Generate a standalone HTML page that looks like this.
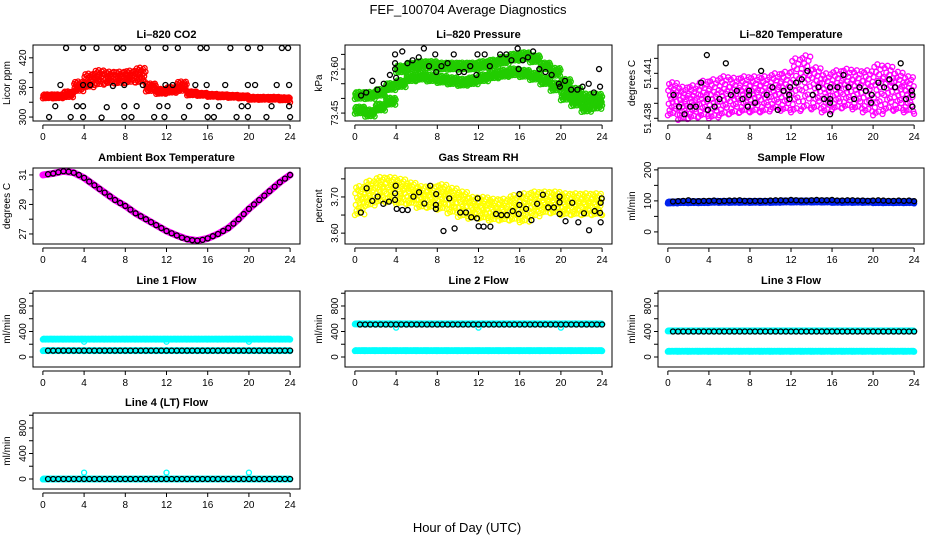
<!DOCTYPE html>
<html><head><meta charset="utf-8"><style>
html,body{margin:0;padding:0;background:#fff}
svg{display:block;font-family:"Liberation Sans",Arial,sans-serif}
</style></head><body>
<svg id="chart" width="936" height="540" viewBox="0 0 936 540">
<text x="468" y="14" text-anchor="middle" font-size="13">FEF_100704  Average Diagnostics</text>
<text x="467" y="532" text-anchor="middle" font-size="13">Hour of Day (UTC)</text>
</svg>
<script>
// ---------- data ----------
const xTicks=[0,4,8,12,16,20,24];
const hours=[0,1,2,3,4,5,6,7,8,9,10,11,12,13,14,15,16,17,18,19,20,21,22,23,24];
const halfHours=[0.5,1,1.5,2,2.5,3,3.5,4,4.5,5,5.5,6,6.5,7,7.5,8,8.5,9,9.5,10,10.5,11,11.5,12,12.5,13,13.5,14,14.5,15,15.5,16,16.5,17,17.5,18,18.5,19,19.5,20,20.5,21,21.5,22,22.5,23,23.5,24];

// CO2
const co2Center=[342,342,346,362,374,380,380,380,382,385,360,352,355,362,348,346,344,343,342,341,338,338,338,337,333];
const co2Spread=[4,4,6,10,14,15,12,12,12,15,8,5,6,10,4,3,3,3,3,3,3,3,3,3,3];
const co2BlkT=[2.25,3.9,5.2,7.2,7.8,10.2,11.9,13.1,15.3,15.9,18.2,19.9,21.1,23.2,23.8,
1.7,3.9,4.6,6.8,7.9,9.7,11.9,12.6,14.8,15.9,17.7,19.9,20.6,22.7,23.9,
1.2,3.3,3.9,6.2,7.9,9.1,11.3,12.1,14.2,15.9,17.1,19.3,19.9,22.2,23.9,
0.6,2.7,3.9,5.7,7.9,8.6,10.8,11.8,13.7,16.0,16.6,18.8,19.9,21.7,24.0];
const co2BlkV=[440,440,440,440,440,440,440,440,440,440,440,440,440,440,440,
365,365,365,363,365,365,365,365,365,365,365,365,365,365,365,
322,322,322,320,322,322,322,322,322,322,322,322,322,322,322,
300,300,300,299,300,300,300,300,300,300,300,300,300,300,300];

// Pressure
const presUpper=[73.51,73.51,73.52,73.54,73.60,73.61,73.615,73.615,73.61,73.61,73.61,73.61,73.615,73.62,73.63,73.64,73.645,73.635,73.61,73.59,73.55,73.52,73.50,73.50,73.52];
const presLower=[73.46,73.45,73.47,73.49,73.55,73.57,73.575,73.57,73.565,73.56,73.555,73.56,73.57,73.58,73.585,73.59,73.585,73.575,73.56,73.54,73.51,73.49,73.47,73.48,73.49];
const presSpread=[0.012,0.012,0.012,0.012,0.012,0.012,0.012,0.012,0.012,0.012,0.012,0.012,0.012,0.012,0.012,0.012,0.012,0.012,0.012,0.014,0.016,0.016,0.016,0.016,0.014];
const presBlkT=[0.6,1.1,1.7,2.2,2.8,3.4,3.9,3.9,4.0,3.9,4.6,5.1,5.6,6.2,6.7,7.2,7.8,7.9,8.4,9.0,9.6,10.1,10.6,11.2,11.8,11.9,12.6,13.1,14.1,14.7,15.2,15.8,15.9,16.3,16.8,17.3,17.9,18.5,19.1,19.8,19.9,20.4,21.0,21.6,22.1,22.7,23.2,23.7,23.8];
const presBlkV=[73.51,73.52,73.56,73.53,73.55,73.58,73.62,73.60,73.57,73.65,73.66,73.62,73.63,73.64,73.67,73.61,73.65,73.59,73.61,73.62,73.65,73.59,73.59,73.61,73.58,73.65,73.65,73.61,73.65,73.65,73.63,73.67,73.60,73.63,73.64,73.66,73.60,73.59,73.58,73.55,73.54,73.56,73.53,73.53,73.54,73.55,73.52,73.60,73.54];

// Li-820 temperature
const tempCenter=[51.4393,51.4390,51.4391,51.4393,51.4393,51.4395,51.4395,51.4396,51.4396,51.4396,51.4398,51.4398,51.4402,51.4404,51.4400,51.4397,51.4399,51.4400,51.4399,51.4398,51.4399,51.4400,51.4398,51.4396,51.4394];
const tempSpread=[0.0011,0.0011,0.0011,0.0012,0.0013,0.0013,0.0012,0.0012,0.0012,0.0012,0.0012,0.0013,0.0018,0.0018,0.0014,0.0013,0.0013,0.0013,0.0013,0.0014,0.0017,0.0015,0.0013,0.0012,0.0011];
const tempBlkT=[0.55,1.1,1.62,2.18,2.73,3.25,3.8,3.9,3.9,4.55,5.03,5.65,6.14,6.72,7.27,7.79,7.92,7.92,8.5,9.09,9.64,10.19,10.71,11.27,11.82,11.85,11.92,12.5,13.05,13.6,14.12,14.68,15.23,15.81,15.81,15.81,15.81,16.53,17.11,17.6,18.15,18.67,19.29,19.81,19.87,20.52,21.07,21.59,22.14,22.69,23.21,23.77,23.83,23.83];
const tempBlkV=[51.43956,51.43878,51.43827,51.43878,51.43878,51.44038,51.44222,51.43929,51.43856,51.43878,51.43929,51.44167,51.43956,51.43984,51.43929,51.43878,51.43956,51.43984,51.43904,51.44116,51.43956,51.44007,51.43856,51.43984,51.43956,51.43929,51.44007,51.44038,51.4406,51.44116,51.43956,51.44007,51.43929,51.43904,51.43929,51.44007,51.43827,51.44007,51.44089,51.44007,51.43929,51.44007,51.43984,51.43904,51.43956,51.44038,51.44007,51.4406,51.44007,51.44167,51.43929,51.43984,51.43956,51.43878];

// Ambient
const ambient=[31.05,31.1,31.18,31.25,31.22,31.15,31.0,30.8,30.55,30.3,30.05,29.8,29.55,29.3,29.1,28.9,28.65,28.4,28.2,28.0,27.8,27.6,27.4,27.2,27.05,26.9,26.75,26.65,26.58,26.55,26.6,26.7,26.85,27.0,27.2,27.4,27.7,28.0,28.35,28.7,29.0,29.3,29.6,29.9,30.2,30.5,30.75,31.0];
const ambientBand=[31.0,31.1,31.25,31.15,30.8,30.3,29.8,29.3,28.9,28.4,28.0,27.6,27.2,26.9,26.65,26.55,26.7,27.0,27.4,28.0,28.7,29.3,29.9,30.5,31.0];

// RH
const rhCenter=[3.69,3.71,3.72,3.72,3.715,3.71,3.70,3.70,3.70,3.69,3.68,3.67,3.67,3.665,3.665,3.67,3.67,3.68,3.685,3.685,3.68,3.68,3.68,3.68,3.68];
const rhSpread=[0.04,0.035,0.035,0.035,0.035,0.03,0.03,0.03,0.035,0.035,0.035,0.03,0.03,0.03,0.03,0.035,0.04,0.035,0.03,0.03,0.03,0.03,0.03,0.03,0.03];
const rhBlkT=[0.58,1.14,1.69,2.21,2.76,3.31,3.9,3.9,3.96,4.06,4.61,5.13,5.68,6.23,6.75,7.31,7.86,7.89,7.86,8.6,9.16,9.68,10.23,10.78,11.3,11.85,11.92,12.01,12.5,13.15,13.7,14.22,14.77,15.32,15.91,15.97,15.97,16.62,17.14,17.69,18.25,18.77,19.32,19.87,19.87,19.87,20.45,21.1,21.69,22.24,22.73,23.28,23.8,23.86,23.86,23.96];
const rhBlkV=[3.657,3.724,3.689,3.701,3.681,3.687,3.692,3.710,3.731,3.667,3.664,3.664,3.701,3.713,3.682,3.731,3.678,3.708,3.667,3.606,3.696,3.613,3.657,3.657,3.644,3.641,3.696,3.619,3.618,3.618,3.653,3.650,3.650,3.661,3.653,3.708,3.678,3.667,3.636,3.681,3.706,3.671,3.671,3.701,3.685,3.653,3.633,3.684,3.630,3.655,3.608,3.661,3.656,3.684,3.630,3.696];

// Sample flow
const sampleBand=[95,96,96,96,97,97,97,97,97,97,97,98,98,98,98,98,97,97,97,97,96,96,96,96,95];
const sampleBlk=[98,99,100,102,99,99,100,100,101,99,100,101,101,102,100,100,100,100,100,101,102,102,101,103,102,101,101,102,103,102,102,103,101,101,102,102,101,101,100,101,102,101,100,100,101,100,101,99];

// Line flows
const line1Upper=[280,280,280,280,280,280,280,280,280,280,280,280,280,280,280,280,280,280,280,280,280,280,280,280,280];
const line1Lower=[100,100,100,100,100,100,100,100,100,100,100,100,100,100,100,100,100,100,100,100,100,100,100,100,100];
const line1Blk=[100,100,100,100,100,100,100,100,100,100,100,100,100,100,100,100,100,100,100,100,100,100,100,100,100,100,100,100,100,100,100,100,100,100,100,100,100,100,100,100,100,100,100,100,100,100,100,100];
const line2Upper=[520,520,520,520,520,520,520,520,520,520,520,520,520,520,520,520,520,520,520,520,520,520,520,520,520];
const line2Lower=[100,100,100,100,100,100,100,100,100,100,100,100,100,100,100,100,100,100,100,100,100,100,100,100,100];
const line2Blk=[510,510,510,510,510,510,510,510,510,510,510,510,510,510,510,510,510,510,510,510,510,510,510,510,510,510,510,510,510,510,510,510,510,510,510,510,510,510,510,510,510,510,510,510,510,510,510,510];
const line3Upper=[410,410,410,410,410,410,410,410,410,410,410,410,410,410,410,410,410,410,410,410,410,410,410,410,410];
const line3Lower=[90,90,90,90,90,90,90,90,90,90,90,90,90,90,90,90,90,90,90,90,90,90,90,90,90];
const line3Blk=[400,400,400,400,400,400,400,400,400,400,400,400,400,400,400,400,400,400,400,400,400,400,400,400,400,400,400,400,400,400,400,400,400,400,400,400,400,400,400,400,400,400,400,400,400,400,400,400];
const line4Band=[0,0,0,0,0,0,0,0,0,0,0,0,0,0,0,0,0,0,0,0,0,0,0,0,0];
const line4Blk=[0,0,0,0,0,0,0,0,0,0,0,0,0,0,0,0,0,0,0,0,0,0,0,0,0,0,0,0,0,0,0,0,0,0,0,0,0,0,0,0,0,0,0,0,0,0,0,0];
const spikeT=[4,12,20];
const line1Spike=[240,240,240];
const line2Spike=[460,460,460];
const line4Spike=[100,100,100];

// ---------- drawing ----------
const svg=document.getElementById('chart');
const NS='http://www.w3.org/2000/svg';
const X0=-0.96,X1=24.96;
const jitter=[-1,0.5,-0.3,0.9,-0.7,0.2,-0.9,0.7,0,-0.5,1,-0.2,0.35,-0.85,0.6,-0.45,0.1,0.8,-0.6,0.25,-0.15,0.95,-0.95,0.45];
function mk(tag,attrs,parent){const e=document.createElementNS(NS,tag);for(const k in attrs)e.setAttribute(k,attrs[k]);(parent||svg).appendChild(e);return e;}
function sx(p,t){return p.L+(t-X0)/(X1-X0)*(p.R-p.L);}
function sy(p,v){return p.B-(v-p.y0)/(p.y1-p.y0)*(p.B-p.T);}

function panel(id,L,T,R,B,y0,y1,title,ylab,yticks,ylabels){
  const p={L,T,R,B,y0,y1};
  const g=mk('g',{});
  
  
  p.g=g;
  const t=mk('text',{x:(L+R)/2,y:T-7,'text-anchor':'middle','font-size':'11','font-weight':'bold'},g);
  t.textContent=title;
  
  
  const yl=mk('text',{transform:`translate(${L-23},${(T+B)/2}) rotate(-90)`,'text-anchor':'middle','font-size':'10'},g);
  yl.textContent=ylab;
  
  
  yticks.forEach((v,i)=>{
    const y=sy(p,v);
    const tk=mk('line',{x1:L-4,x2:L,y1:y,y2:y,stroke:'#000','stroke-width':1},g);
    
    
    if(ylabels[i]!==''){
      const lb=mk('text',{transform:`translate(${L-7},${y}) rotate(-90)`,'text-anchor':'middle','font-size':'10'},g);
      lb.textContent=ylabels[i];
      
      
    }
  });
  const ax=mk('line',{x1:L,x2:L,y1:sy(p,yticks[0]),y2:sy(p,yticks[yticks.length-1]),stroke:'#000'},g);
  
  
  const xb=mk('line',{x1:sx(p,0),x2:sx(p,24),y1:B+4,y2:B+4,stroke:'#000'},g);
  
  
  xTicks.forEach(v=>{
    const x=sx(p,v);
    const tk=mk('line',{x1:x,x2:x,y1:B+4,y2:B+8,stroke:'#000'},g);
    
    
    const lb=mk('text',{x:x,y:B+19,'text-anchor':'middle','font-size':'10'},g);
    lb.textContent=v;
    
    
  });
  p.plot=mk('g',{},g);
  
  
  return p;
}
function finish(p,id){
  const b=mk('rect',{x:p.L,y:p.T,width:p.R-p.L,height:p.B-p.T,fill:'none',stroke:'#000','stroke-width':1},p.g);
  
  
}
function pt(p,t,v,color,name){
  const c=mk('circle',{cx:sx(p,t),cy:sy(p,v),r:2.5,fill:'none',stroke:color,'stroke-width':1.3},p.plot);
  
  
}
function dense(p,centers,spreads,color,name){
  const per=jitter.length;
  for(let i=0;i<hours.length;i++){
    const n=i===hours.length-1?1:per;
    for(let s=0;s<n;s++){
      pt(p,hours[i]+s/per,centers[i]+spreads[i]*jitter[s],color,name);
    }
  }
}
function scatter(p,ts,vs,color,name){for(let i=0;i<ts.length;i++)pt(p,ts[i],vs[i],color,name);}

const cols=[[33,300],[345,612],[658,924]];
const rows=[[45,121],[168,244],[291,367],[413,489]];
const lineTicks=[0,200,400,600,800,1000], lineLabels=['0','','400','','800',''];

let p;
p=panel('co2',cols[0][0],rows[0][0],cols[0][1],rows[0][1],292,446,'Li–820 CO2','Licor ppm',[300,330,360,390,420],['300','','360','','420']);
dense(p,co2Center,co2Spread,'#ff0000','co2-point');
scatter(p,co2BlkT,co2BlkV,'#000','co2-average-point');
finish(p,'co2');
p=panel('pressure',cols[1][0],rows[0][0],cols[1][1],rows[0][1],73.423,73.682,'Li–820 Pressure','kPa',[73.45,73.50,73.55,73.60,73.65],['73.45','','','73.60','']);
dense(p,presUpper,presSpread,'#22cc00','pressure-point');
dense(p,presLower,presSpread,'#22cc00','pressure-point');
scatter(p,presBlkT,presBlkV,'#000','pressure-average-point');
finish(p,'pressure');
p=panel('li820-temp',cols[2][0],rows[0][0],cols[2][1],rows[0][1],51.43782,51.44289,'Li–820 Temperature','degrees C',[51.438,51.439,51.440,51.441,51.442],['51.438','','','51.441','']);
dense(p,tempCenter,tempSpread,'#ff00ff','li820-temp-point');
scatter(p,tempBlkT,tempBlkV,'#000','li820-temp-average-point');
finish(p,'li820-temp');
p=panel('ambient-temp',cols[0][0],rows[1][0],cols[0][1],rows[1][1],26.32,31.47,'Ambient Box Temperature','degrees C',[27,28,29,30,31],['27','','29','','31']);
{const bl=[];for(let i=0;i<hours.length;i++)bl.push(sx(p,hours[i])+','+sy(p,ambientBand[i]));
 const pl=mk('polyline',{points:bl.join(' '),fill:'none',stroke:'#ff00ff','stroke-width':7,'stroke-linejoin':'round','stroke-linecap':'round'},p.plot);
 
 }
scatter(p,halfHours,ambient,'#000','ambient-temp-average-point');
finish(p,'ambient-temp');
p=panel('rh',cols[1][0],rows[1][0],cols[1][1],rows[1][1],3.57,3.78,'Gas Stream RH','percent',[3.60,3.65,3.70,3.75],['3.60','','3.70','']);
dense(p,rhCenter,rhSpread,'#ffff00','rh-point');
scatter(p,rhBlkT,rhBlkV,'#000','rh-average-point');
finish(p,'rh');
p=panel('sample-flow',cols[2][0],rows[1][0],cols[2][1],rows[1][1],-39,206,'Sample Flow','ml/min',[0,50,100,150,200],['0','','100','','200']);
dense(p,sampleBand,[3,3,3,3,3,3,3,3,3,3,3,3,3,3,3,3,3,3,3,3,3,3,3,3,3],'#0022ee','sample-flow-point');
scatter(p,halfHours,sampleBlk,'#000','sample-flow-average-point');
finish(p,'sample-flow');
const flat=[6,6,6,6,6,6,6,6,6,6,6,6,6,6,6,6,6,6,6,6,6,6,6,6,6];
p=panel('line1-flow',cols[0][0],rows[2][0],cols[0][1],rows[2][1],-157,1035,'Line 1 Flow','ml/min',lineTicks,lineLabels);
dense(p,line1Upper,flat,'#00ffff','line1-flow-point');
dense(p,line1Lower,flat,'#00ffff','line1-flow-point');
scatter(p,spikeT,line1Spike,'#00ffff','line1-flow-point');
scatter(p,halfHours,line1Blk,'#000','line1-flow-average-point');
finish(p,'line1-flow');
p=panel('line2-flow',cols[1][0],rows[2][0],cols[1][1],rows[2][1],-157,1035,'Line 2 Flow','ml/min',lineTicks,lineLabels);
dense(p,line2Upper,flat,'#00ffff','line2-flow-point');
dense(p,line2Lower,flat,'#00ffff','line2-flow-point');
scatter(p,spikeT,line2Spike,'#00ffff','line2-flow-point');
scatter(p,halfHours,line2Blk,'#000','line2-flow-average-point');
finish(p,'line2-flow');
p=panel('line3-flow',cols[2][0],rows[2][0],cols[2][1],rows[2][1],-157,1035,'Line 3 Flow','ml/min',lineTicks,lineLabels);
dense(p,line3Upper,flat,'#00ffff','line3-flow-point');
dense(p,line3Lower,flat,'#00ffff','line3-flow-point');
scatter(p,halfHours,line3Blk,'#000','line3-flow-average-point');
finish(p,'line3-flow');
p=panel('line4-flow',cols[0][0],rows[3][0],cols[0][1],rows[3][1],-157,1035,'Line 4 (LT) Flow','ml/min',lineTicks,lineLabels);
dense(p,line4Band,flat,'#00ffff','line4-flow-point');
scatter(p,spikeT,line4Spike,'#00ffff','line4-flow-point');
scatter(p,halfHours,line4Blk,'#000','line4-flow-average-point');
finish(p,'line4-flow');
</script>
</body></html>
